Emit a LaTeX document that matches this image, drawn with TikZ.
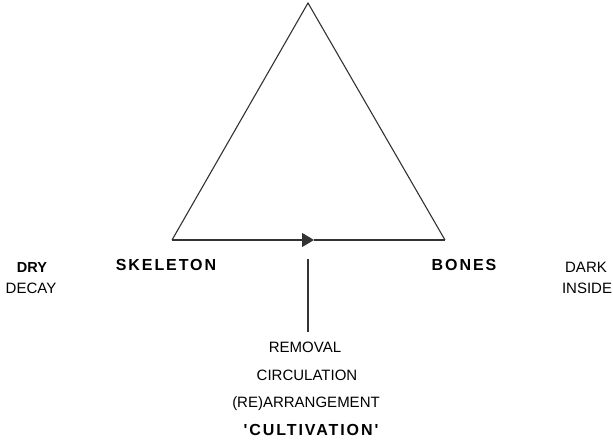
\documentclass[tikz,border=0pt]{standalone}
\usepackage{fontspec}
\setmainfont{Liberation Sans}
\newfontfamily\widebf[LetterSpace=12]{Liberation Sans}
\usetikzlibrary{arrows.meta,positioning}

\tikzset{
  word/.style={inner sep=0pt, text height=11pt, text depth=0pt, font=\fontsize{15}{18}\selectfont},
  boldword/.style={word, font=\fontsize{14.5}{18}\selectfont\bfseries},
  wideword/.style={word, text height=11.5pt, font=\fontsize{16}{18}\selectfont\widebf\bfseries},
  edge/.style={draw=black!80, line width=1.1pt},
}

\begin{document}
\begin{tikzpicture}[x=1pt, y=-1pt]
\useasboundingbox (0,0) rectangle (613,443);
% corners of the triangle
\coordinate (apex) at (308,3);
\coordinate (left) at (172,240);
\coordinate (right) at (445,240);
\coordinate (mid) at (314,240);
\coordinate (stem) at (308,259);
\draw[edge, line join=miter] (left) -- (apex) -- (right);
\draw[edge, -{Triangle[length=12pt, width=14pt]}] (left) -- (mid);
\draw[edge] (mid) -- (right);
% side words
\node[boldword] (dry) at (32,267) {DRY};
\node[word] (decay) at (31,288) {DECAY};
\node[wideword] (skeleton) at (166,265) {SKELETON};
\node[wideword] (bones) at (464,265) {BONES};
\node[word] (dark) at (586,267) {DARK};
\node[word] (inside) at (587,288) {INSIDE};
% words below the stem
\node[word] (removal) at (305,347) {REMOVAL};
\node[word] (circulation) at (307,375) {CIRCULATION};
\node[word] (arrangement) at (306,402) {(RE)ARRANGEMENT};
\node[wideword] (cultivation) at (311,430) {'CULTIVATION'};
\draw[edge, shorten >=9pt] (stem) -- (stem |- removal.north);
\end{tikzpicture}
\end{document}
